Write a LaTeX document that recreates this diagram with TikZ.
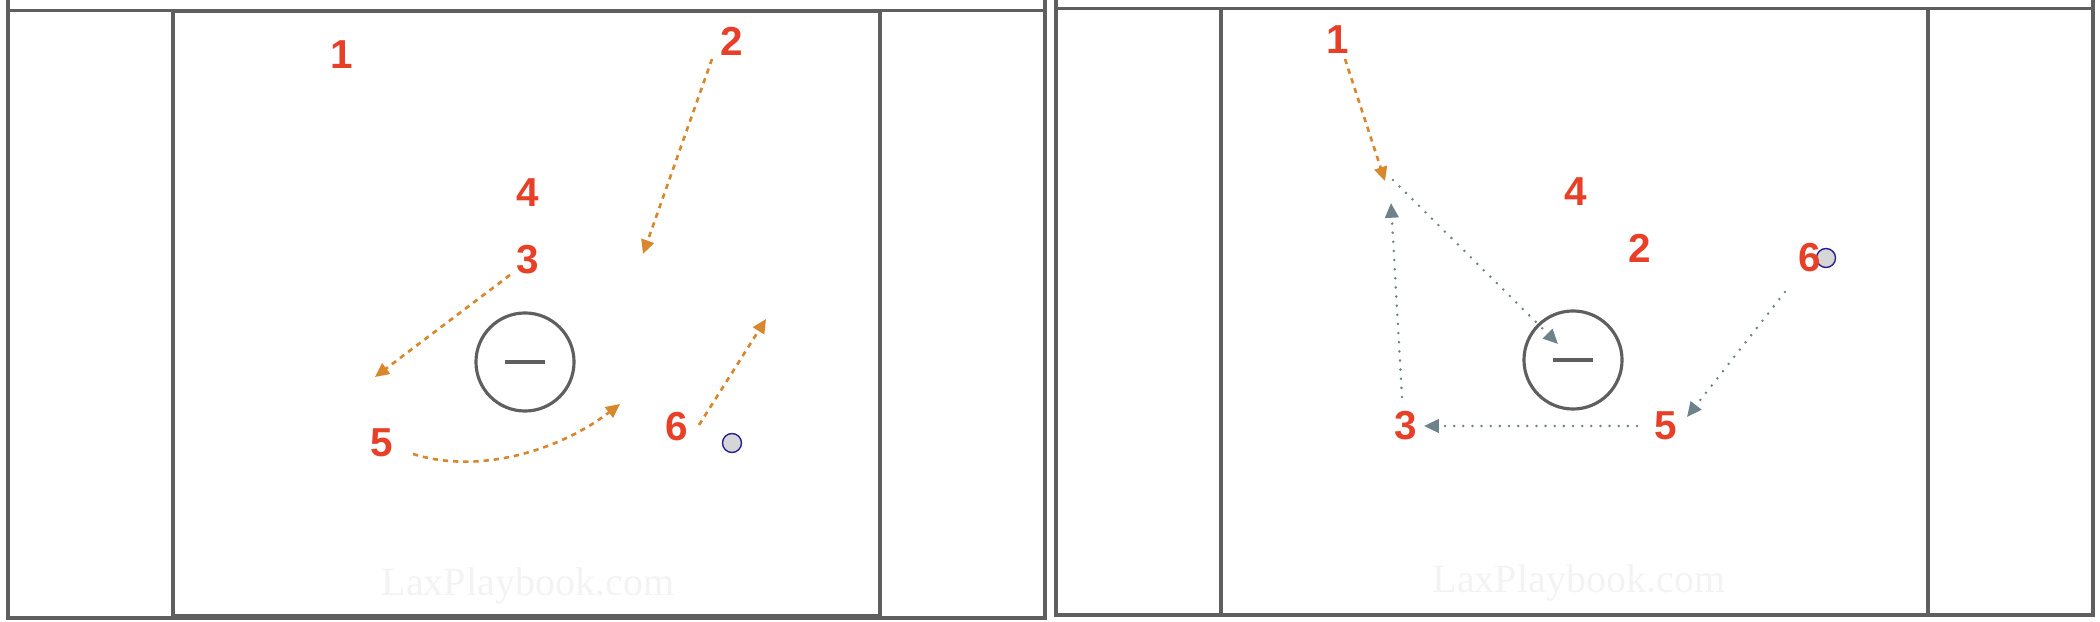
\documentclass[tikz,border=0pt]{standalone}
\usepackage{fontspec}
\setmainfont{Liberation Serif}
\setsansfont{Liberation Sans}
\definecolor{fieldgrey}{RGB}{95,95,95}
\definecolor{playred}{RGB}{232,64,40}
\definecolor{runorange}{RGB}{217,135,45}
\definecolor{passgrey}{RGB}{110,130,140}
\definecolor{balledge}{RGB}{40,30,150}
\definecolor{ballfill}{RGB}{214,214,214}
\definecolor{markgrey}{RGB}{243,243,243}
\usetikzlibrary{arrows.meta}

\begin{document}
\begin{tikzpicture}[x=0.01cm,y=-0.01cm]

%
% Styles
%
\tikzstyle{field}     = [draw=fieldgrey,line width=0.9pt]
\tikzstyle{player}    = [inner sep=0pt,color=playred,font=\sffamily\bfseries\fontsize{11.5}{13}\selectfont]
\tikzstyle{crease}    = [circle,draw=fieldgrey,line width=0.9pt,minimum size=0.98cm,inner sep=0pt]
\tikzstyle{bar}       = [draw=fieldgrey,line width=1.2pt]
\tikzstyle{ball}      = [circle,draw=balledge,fill=ballfill,line width=0.4pt,minimum size=0.19cm,inner sep=0pt]
\tikzstyle{run}       = [-{Triangle[length=4pt,width=3.7pt]},draw=runorange,line width=0.75pt,dash pattern=on 1.5pt off 1.4pt]
\tikzstyle{pass}      = [-{Triangle[length=4.2pt,width=3.8pt]},draw=passgrey,line width=0.8pt,line cap=round,dash pattern=on 0pt off 2.6pt]
\tikzstyle{watermark} = [inner sep=0pt,color=markgrey,font=\rmfamily\fontsize{11.4}{13}\selectfont]

\useasboundingbox (0,0) rectangle (2100,622);

% left field
\draw[field] (8,0) -- (8,618) -- (1045,618) -- (1045,0);
\draw[field] (8,10.5) -- (1045,10.5);
\draw[field] (173,11) rectangle (880,616);
\node[watermark] (wa) at (528,586) {LaxPlaybook.com};

\node[crease] (ga) at (525,362) {};
\draw[bar] ([xshift=-0.2cm]ga.center) -- ([xshift=0.2cm]ga.center);

\node[player] (a1) at (342,55)  {1};
\node[player] (a2) at (732,41)  {2};
\node[player] (a4) at (528,193) {4};
\node[player] (a3) at (528,260) {3};
\node[player] (a5) at (382,443) {5};
\node[player] (a6) at (677,427) {6};
\node[ball]   (ba) at (732,443) {};

\coordinate (a2s) at (712,59);
\coordinate (a2e) at (643,254);
\coordinate (a3s) at (510,275);
\coordinate (a3e) at (375,377);
\coordinate (a5s) at (413,454);
\coordinate (a5e) at (620,404);
\coordinate (a6s) at (699,425);
\coordinate (a6e) at (766,319);

\draw[run] (a2s) -- (a2e);
\draw[run] (a3s) -- (a3e);
\draw[run] (a5s) .. controls (480,475) and (560,450) .. (a5e);
\draw[run] (a6s) -- (a6e);

% right field
\draw[field] (1056,0) -- (1056,615) -- (2093,615) -- (2093,0);
\draw[field] (1056,8.3) -- (2093,8.3);
\draw[field] (1221,8.5) rectangle (1928,615);
\node[watermark] (wb) at (1579,583) {LaxPlaybook.com};

\node[crease] (gb) at (1573,360) {};
\draw[bar] ([xshift=-0.2cm]gb.center) -- ([xshift=0.2cm]gb.center);

\node[player] (b1) at (1338,40)  {1};
\node[player] (b4) at (1576,192) {4};
\node[player] (b2) at (1640,248) {2};
\node[ball]   (bb) at (1826,258) {};
\node[player] (b6) at (1810,258) {6};
\node[player] (b3) at (1406,426) {3};
\node[player] (b5) at (1666,426) {5};

\coordinate (b1s) at (1345,59);
\coordinate (b1e) at (1385,181);
\coordinate (p1s) at (1393,180);
\coordinate (p1e) at (1558,344);
\coordinate (p2s) at (1402,397);
\coordinate (p2e) at (1391,203);
\coordinate (p3s) at (1637,426);
\coordinate (p3e) at (1424,426);
\coordinate (p4s) at (1785,292);
\coordinate (p4e) at (1687,417);

\draw[run]  (b1s) -- (b1e);
\draw[pass] (p1s) -- (p1e);
\draw[pass] (p2s) -- (p2e);
\draw[pass] (p3s) -- (p3e);
\draw[pass] (p4s) -- (p4e);

\end{tikzpicture}
\end{document}
